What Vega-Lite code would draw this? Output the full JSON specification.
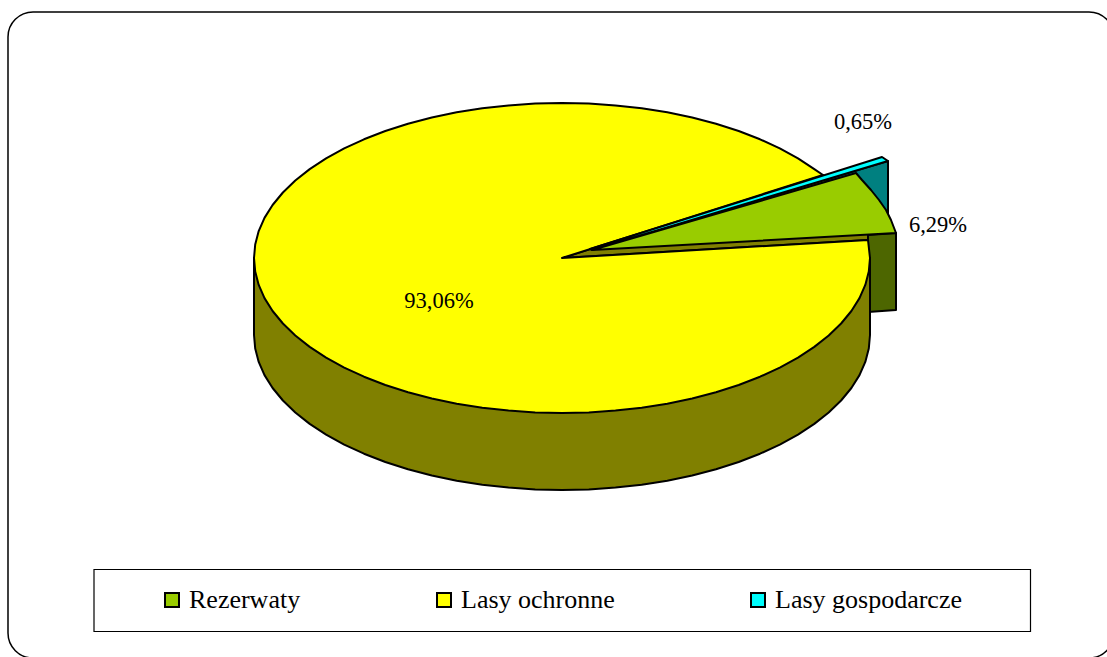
{"$schema":"https://vega.github.io/schema/vega-lite/v6.json","width":1107,"height":657,"padding":0,"autosize":"none","background":"white","config":{"view":{"stroke":null}},
"datasets":{
"boxes":[{"item":"ramka","x":8,"x2":1114,"y":12,"y2":658}],
"legendbox":[{"item":"legenda","x":94,"x2":1030.5,"y":569.5,"y2":631.5}],
"labels":[{"part":"Lasy gospodarcze","share":"0,65%","x":863,"y":122},{"part":"Rezerwaty","share":"6,29%","x":938,"y":225},{"part":"Lasy ochronne","share":"93,06%","x":439,"y":301}],
"sides":[
{"f":"Rezerwaty bok","i":0,"x":868,"y":235},{"f":"Rezerwaty bok","i":1,"x":896,"y":233},{"f":"Rezerwaty bok","i":2,"x":896,"y":310},{"f":"Rezerwaty bok","i":3,"x":868,"y":312},
{"f":"Lasy ochronne bok","i":0,"x":254,"y":258},{"f":"Lasy ochronne bok","i":1,"x":254,"y":335},{"f":"Lasy ochronne bok","i":2,"x":255.2,"y":348.5},{"f":"Lasy ochronne bok","i":3,"x":258.7,"y":361.9},{"f":"Lasy ochronne bok","i":4,"x":264.5,"y":375.1},{"f":"Lasy ochronne bok","i":5,"x":272.6,"y":388},{"f":"Lasy ochronne bok","i":6,"x":282.9,"y":400.5},{"f":"Lasy ochronne bok","i":7,"x":295.3,"y":412.5},{"f":"Lasy ochronne bok","i":8,"x":309.7,"y":423.9},{"f":"Lasy ochronne bok","i":9,"x":326.1,"y":434.6},{"f":"Lasy ochronne bok","i":10,"x":344.2,"y":444.6},{"f":"Lasy ochronne bok","i":11,"x":364,"y":453.7},{"f":"Lasy ochronne bok","i":12,"x":385.3,"y":462},{"f":"Lasy ochronne bok","i":13,"x":408,"y":469.2},{"f":"Lasy ochronne bok","i":14,"x":431.8,"y":475.5},{"f":"Lasy ochronne bok","i":15,"x":456.7,"y":480.7},{"f":"Lasy ochronne bok","i":16,"x":482.3,"y":484.7},{"f":"Lasy ochronne bok","i":17,"x":508.5,"y":487.6},{"f":"Lasy ochronne bok","i":18,"x":535.2,"y":489.4},{"f":"Lasy ochronne bok","i":19,"x":562,"y":490},{"f":"Lasy ochronne bok","i":20,"x":588.8,"y":489.4},{"f":"Lasy ochronne bok","i":21,"x":615.5,"y":487.6},{"f":"Lasy ochronne bok","i":22,"x":641.7,"y":484.7},{"f":"Lasy ochronne bok","i":23,"x":667.3,"y":480.7},{"f":"Lasy ochronne bok","i":24,"x":692.2,"y":475.5},{"f":"Lasy ochronne bok","i":25,"x":716,"y":469.2},{"f":"Lasy ochronne bok","i":26,"x":738.7,"y":462},{"f":"Lasy ochronne bok","i":27,"x":760,"y":453.7},{"f":"Lasy ochronne bok","i":28,"x":779.8,"y":444.6},{"f":"Lasy ochronne bok","i":29,"x":798,"y":434.6},{"f":"Lasy ochronne bok","i":30,"x":814.3,"y":423.9},{"f":"Lasy ochronne bok","i":31,"x":828.7,"y":412.5},{"f":"Lasy ochronne bok","i":32,"x":841.1,"y":400.5},{"f":"Lasy ochronne bok","i":33,"x":851.4,"y":388},{"f":"Lasy ochronne bok","i":34,"x":859.5,"y":375.1},{"f":"Lasy ochronne bok","i":35,"x":865.3,"y":361.9},{"f":"Lasy ochronne bok","i":36,"x":868.8,"y":348.5},{"f":"Lasy ochronne bok","i":37,"x":870,"y":335},{"f":"Lasy ochronne bok","i":38,"x":870,"y":258},
{"f":"Lasy gospodarcze bok","i":0,"x":590,"y":249},{"f":"Lasy gospodarcze bok","i":1,"x":888,"y":161},{"f":"Lasy gospodarcze bok","i":2,"x":888,"y":225},{"f":"Lasy gospodarcze bok","i":3,"x":592,"y":251},
{"f":"Lasy ochronne przekroj","i":0,"x":562,"y":258},{"f":"Lasy ochronne przekroj","i":1,"x":823,"y":175},{"f":"Lasy ochronne przekroj","i":2,"x":868,"y":235},{"f":"Lasy ochronne przekroj","i":3,"x":868,"y":240}
],
"tops":[
{"f":"Lasy ochronne","i":0,"x":562,"y":258},{"f":"Lasy ochronne","i":1,"x":823,"y":175},{"f":"Lasy ochronne","i":2,"x":814.3,"y":169.1},{"f":"Lasy ochronne","i":3,"x":798,"y":158.4},{"f":"Lasy ochronne","i":4,"x":779.8,"y":148.4},{"f":"Lasy ochronne","i":5,"x":760,"y":139.3},{"f":"Lasy ochronne","i":6,"x":738.7,"y":131},{"f":"Lasy ochronne","i":7,"x":716,"y":123.8},{"f":"Lasy ochronne","i":8,"x":692.2,"y":117.5},{"f":"Lasy ochronne","i":9,"x":667.3,"y":112.3},{"f":"Lasy ochronne","i":10,"x":641.7,"y":108.3},{"f":"Lasy ochronne","i":11,"x":615.5,"y":105.4},{"f":"Lasy ochronne","i":12,"x":588.8,"y":103.6},{"f":"Lasy ochronne","i":13,"x":562,"y":103},{"f":"Lasy ochronne","i":14,"x":535.2,"y":103.6},{"f":"Lasy ochronne","i":15,"x":508.5,"y":105.4},{"f":"Lasy ochronne","i":16,"x":482.3,"y":108.3},{"f":"Lasy ochronne","i":17,"x":456.7,"y":112.3},{"f":"Lasy ochronne","i":18,"x":431.8,"y":117.5},{"f":"Lasy ochronne","i":19,"x":408,"y":123.8},{"f":"Lasy ochronne","i":20,"x":385.3,"y":131},{"f":"Lasy ochronne","i":21,"x":364,"y":139.3},{"f":"Lasy ochronne","i":22,"x":344.2,"y":148.4},{"f":"Lasy ochronne","i":23,"x":326.1,"y":158.4},{"f":"Lasy ochronne","i":24,"x":309.7,"y":169.1},{"f":"Lasy ochronne","i":25,"x":295.3,"y":180.5},{"f":"Lasy ochronne","i":26,"x":282.9,"y":192.5},{"f":"Lasy ochronne","i":27,"x":272.6,"y":205},{"f":"Lasy ochronne","i":28,"x":264.5,"y":217.9},{"f":"Lasy ochronne","i":29,"x":258.7,"y":231.1},{"f":"Lasy ochronne","i":30,"x":255.2,"y":244.5},{"f":"Lasy ochronne","i":31,"x":254,"y":258},{"f":"Lasy ochronne","i":32,"x":255.2,"y":271.5},{"f":"Lasy ochronne","i":33,"x":258.7,"y":284.9},{"f":"Lasy ochronne","i":34,"x":264.5,"y":298.1},{"f":"Lasy ochronne","i":35,"x":272.6,"y":311},{"f":"Lasy ochronne","i":36,"x":282.9,"y":323.5},{"f":"Lasy ochronne","i":37,"x":295.3,"y":335.5},{"f":"Lasy ochronne","i":38,"x":309.7,"y":346.9},{"f":"Lasy ochronne","i":39,"x":326.1,"y":357.6},{"f":"Lasy ochronne","i":40,"x":344.2,"y":367.6},{"f":"Lasy ochronne","i":41,"x":364,"y":376.7},{"f":"Lasy ochronne","i":42,"x":385.3,"y":385},{"f":"Lasy ochronne","i":43,"x":408,"y":392.2},{"f":"Lasy ochronne","i":44,"x":431.8,"y":398.5},{"f":"Lasy ochronne","i":45,"x":456.7,"y":403.7},{"f":"Lasy ochronne","i":46,"x":482.3,"y":407.7},{"f":"Lasy ochronne","i":47,"x":508.5,"y":410.6},{"f":"Lasy ochronne","i":48,"x":535.2,"y":412.4},{"f":"Lasy ochronne","i":49,"x":562,"y":413},{"f":"Lasy ochronne","i":50,"x":588.8,"y":412.4},{"f":"Lasy ochronne","i":51,"x":615.5,"y":410.6},{"f":"Lasy ochronne","i":52,"x":641.7,"y":407.7},{"f":"Lasy ochronne","i":53,"x":667.3,"y":403.7},{"f":"Lasy ochronne","i":54,"x":692.2,"y":398.5},{"f":"Lasy ochronne","i":55,"x":716,"y":392.2},{"f":"Lasy ochronne","i":56,"x":738.7,"y":385},{"f":"Lasy ochronne","i":57,"x":760,"y":376.7},{"f":"Lasy ochronne","i":58,"x":779.8,"y":367.6},{"f":"Lasy ochronne","i":59,"x":798,"y":357.6},{"f":"Lasy ochronne","i":60,"x":814.3,"y":346.9},{"f":"Lasy ochronne","i":61,"x":828.7,"y":335.5},{"f":"Lasy ochronne","i":62,"x":841.1,"y":323.5},{"f":"Lasy ochronne","i":63,"x":851.4,"y":311},{"f":"Lasy ochronne","i":64,"x":859.5,"y":298.1},{"f":"Lasy ochronne","i":65,"x":865.3,"y":284.9},{"f":"Lasy ochronne","i":66,"x":868.8,"y":271.5},{"f":"Lasy ochronne","i":67,"x":870,"y":258},{"f":"Lasy ochronne","i":68,"x":868,"y":240},
{"f":"Lasy gospodarcze","i":0,"x":590,"y":249},{"f":"Lasy gospodarcze","i":1,"x":882,"y":157},{"f":"Lasy gospodarcze","i":2,"x":888,"y":161},{"f":"Lasy gospodarcze","i":3,"x":592,"y":250},
{"f":"Rezerwaty","i":0,"x":592,"y":250},{"f":"Rezerwaty","i":1,"x":856,"y":173},{"f":"Rezerwaty","i":2,"x":862,"y":180},{"f":"Rezerwaty","i":3,"x":871,"y":190},{"f":"Rezerwaty","i":4,"x":879,"y":200},{"f":"Rezerwaty","i":5,"x":886,"y":210},{"f":"Rezerwaty","i":6,"x":891,"y":220},{"f":"Rezerwaty","i":7,"x":896,"y":233}
]},
"encoding":{"x":{"field":"x","type":"quantitative","scale":{"domain":[0,1107],"range":[0,1107],"nice":false},"axis":null},"y":{"field":"y","type":"quantitative","scale":{"domain":[0,657],"range":[0,657],"nice":false},"axis":null}},
"layer":[
{"data":{"name":"boxes"},"mark":{"type":"rect","fill":"white","stroke":"black","strokeWidth":1.5,"cornerRadius":25},"encoding":{"x2":{"field":"x2"},"y2":{"field":"y2"}}},
{"data":{"name":"legendbox"},"mark":{"type":"rect","fill":"white","stroke":"black","strokeWidth":1.2},"encoding":{"x2":{"field":"x2"},"y2":{"field":"y2"}}},
{"data":{"name":"sides"},"mark":{"type":"line","interpolate":"linear-closed","stroke":"black","strokeWidth":2,"strokeJoin":"round"},"encoding":{"order":{"field":"i"},"detail":{"field":"f"},"fill":{"field":"f","type":"nominal","legend":null,"scale":{"domain":["Rezerwaty bok","Lasy ochronne bok","Lasy gospodarcze bok","Lasy ochronne przekroj"],"range":["#4d6600","#808000","#008080","#808000"]}}}},
{"data":{"name":"tops"},"mark":{"type":"line","interpolate":"linear-closed","stroke":"black","strokeWidth":2,"strokeJoin":"round"},"encoding":{"order":{"field":"i"},"detail":{"field":"f"},"fill":{"field":"f","type":"nominal","scale":{"domain":["Rezerwaty","Lasy ochronne","Lasy gospodarcze"],"range":["#99cc00","#ffff00","#00ffff"]},"legend":{"title":null,"orient":"none","legendX":159,"legendY":587,"columns":3,"columnPadding":130,"padding":0,"symbolType":"square","symbolSize":196,"symbolStrokeColor":"black","symbolStrokeWidth":2,"symbolOpacity":1,"labelFont":"Liberation Serif","labelFontSize":26,"labelColor":"black","labelOffset":4,"labelLimit":400}}}},
{"data":{"name":"labels"},"mark":{"type":"text","font":"Liberation Serif","fontSize":22.5,"color":"black","align":"center","baseline":"middle"},"encoding":{"text":{"field":"share"}}}
],
"resolve":{"scale":{"fill":"independent"}}}
